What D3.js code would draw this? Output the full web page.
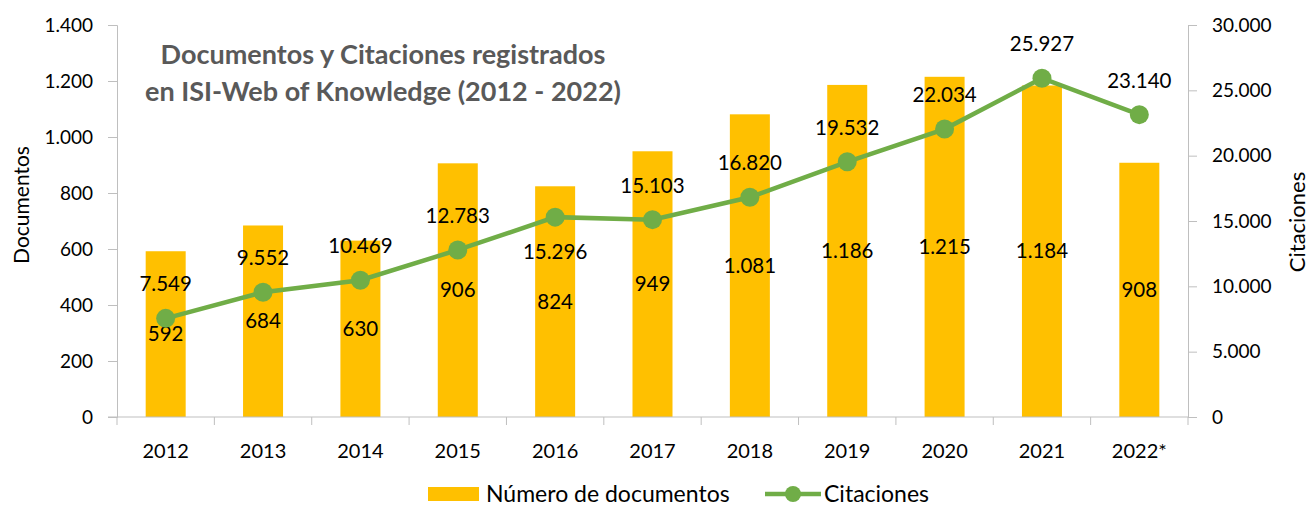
<!DOCTYPE html>
<html>
<head>
<meta charset="utf-8">
<script src="https://cdn.jsdelivr.net/npm/d3@7"></script>
<style>
  body { margin: 0; background: #fff; }
  text { font-family: Lato, "Noto Sans", sans-serif; }
</style>
</head>
<body>
<div id="root"></div>
<script>
var years = ["2012", "2013", "2014", "2015", "2016", "2017", "2018", "2019", "2020", "2021", "2022*"];
var documentos = [592, 684, 630, 906, 824, 949, 1081, 1186, 1215, 1184, 908];
var citaciones = [7549, 9552, 10469, 12783, 15296, 15103, 16820, 19532, 22034, 25927, 23140];
var leftTicks = [0, 200, 400, 600, 800, 1000, 1200, 1400];
var rightTicks = [0, 5000, 10000, 15000, 20000, 25000, 30000];
// labels placed below the point instead of above
var belowLabels = ["2016"];

var W = 1312, H = 506;
var m = { top: 25, right: 124, bottom: 89, left: 117 };

var svg = d3.select("#root").append("svg")
    .attr("width", W)
    .attr("height", H);

var fmt = function (v) { return d3.format(",")(v).replace(/,/g, "."); };

var x = d3.scaleBand().domain(years).range([m.left, W - m.right]);
var yL = d3.scaleLinear().domain([0, 1400]).range([H - m.bottom, m.top]);
var yR = d3.scaleLinear().domain([0, 30000]).range([H - m.bottom, m.top]);

var axisColor = "#bfbfbf";

function styleAxis(g) {
    g.selectAll("path, line").attr("stroke", axisColor);
    g.selectAll("text").attr("fill", "#000").style("font-size", "19px");
}

// left axis
svg.append("g")
    .attr("transform", "translate(" + m.left + ",0)")
    .call(d3.axisLeft(yL).tickValues(leftTicks).tickFormat(fmt).tickSizeOuter(0).tickSize(9).tickPadding(15))
    .call(styleAxis);

// right axis
svg.append("g")
    .attr("transform", "translate(" + (W - m.right) + ",0)")
    .call(d3.axisRight(yR).tickValues(rightTicks).tickFormat(fmt).tickSizeOuter(0).tickSize(9).tickPadding(15))
    .call(styleAxis);

// bars
var barW = 40;
svg.selectAll("rect.bar")
    .data(documentos)
    .enter()
    .append("rect")
    .attr("class", "bar")
    .attr("x", function (d, i) { return x(years[i]) + x.bandwidth() / 2 - barW / 2; })
    .attr("y", function (d) { return yL(d); })
    .attr("width", barW)
    .attr("height", function (d) { return yL(0) - yL(d); })
    .attr("fill", "#ffc000");

// x axis (drawn on top of bars)
var xg = svg.append("g")
    .attr("transform", "translate(0," + (H - m.bottom) + ")")
    .call(d3.axisBottom(x).tickSize(0).tickPadding(27))
    .call(styleAxis);
xg.selectAll("text").style("font-size", "20px");
xg.select(".domain").attr("d", "M" + (m.left - 9) + ",0H" + (W - m.right));
// category separator ticks
xg.selectAll("line.sep")
    .data(d3.range(years.length + 1))
    .enter()
    .append("line")
    .attr("class", "sep")
    .attr("x1", function (i) { return m.left + i * x.step(); })
    .attr("x2", function (i) { return m.left + i * x.step(); })
    .attr("y1", 0)
    .attr("y2", 8)
    .attr("stroke", axisColor);

// bar labels
svg.selectAll("text.blab")
    .data(documentos)
    .enter()
    .append("text")
    .attr("class", "blab")
    .attr("x", function (d, i) { return x(years[i]) + x.bandwidth() / 2; })
    .attr("y", function (d) { return (yL(d) + yL(0)) / 2 + 7; })
    .attr("text-anchor", "middle")
    .style("font-size", "20.5px")
    .text(function (d) { return fmt(d); });

// line
var line = d3.line()
    .x(function (d, i) { return x(years[i]) + x.bandwidth() / 2; })
    .y(function (d) { return yR(d); });

svg.append("path")
    .datum(citaciones)
    .attr("d", line)
    .attr("fill", "none")
    .attr("stroke", "#70ad47")
    .attr("stroke-width", 4.5);

svg.selectAll("circle.pt")
    .data(citaciones)
    .enter()
    .append("circle")
    .attr("class", "pt")
    .attr("cx", function (d, i) { return x(years[i]) + x.bandwidth() / 2; })
    .attr("cy", function (d) { return yR(d); })
    .attr("r", 9.5)
    .attr("fill", "#70ad47");

svg.selectAll("text.clab")
    .data(citaciones)
    .enter()
    .append("text")
    .attr("class", "clab")
    .attr("x", function (d, i) { return x(years[i]) + x.bandwidth() / 2; })
    .attr("y", function (d, i) {
        return belowLabels.indexOf(years[i]) >= 0 ? yR(d) + 42 : yR(d) - 27;
    })
    .attr("text-anchor", "middle")
    .style("font-size", "20.5px")
    .text(function (d) { return fmt(d); });

// axis titles
svg.append("text")
    .attr("transform", "translate(29,205) rotate(-90)")
    .attr("text-anchor", "middle")
    .style("font-size", "21px")
    .text("Documentos");

svg.append("text")
    .attr("transform", "translate(1305,222) rotate(-90)")
    .attr("text-anchor", "middle")
    .style("font-size", "22px")
    .text("Citaciones");

// title
var title = svg.append("text")
    .attr("text-anchor", "middle")
    .attr("fill", "#595959")
    .style("font-size", "27px")
    .style("font-weight", "bold");
title.append("tspan").attr("x", 383).attr("y", 64).text("Documentos y Citaciones registrados");
title.append("tspan").attr("x", 383).attr("y", 101).text("en ISI-Web of Knowledge (2012 - 2022)");

// legend
var lg = svg.append("g").attr("transform", "translate(0,494)");
lg.append("rect").attr("x", 428).attr("y", -7).attr("width", 51).attr("height", 14).attr("fill", "#ffc000");
lg.append("text").attr("x", 486).attr("y", 8).style("font-size", "23px").text("Número de documentos");
lg.append("line").attr("x1", 765).attr("x2", 821).attr("y1", 0).attr("y2", 0)
    .attr("stroke", "#70ad47").attr("stroke-width", 4.5);
lg.append("circle").attr("cx", 793).attr("cy", 0).attr("r", 8).attr("fill", "#70ad47");
lg.append("text").attr("x", 824).attr("y", 8).style("font-size", "23px").text("Citaciones");
</script>
</body>
</html>
